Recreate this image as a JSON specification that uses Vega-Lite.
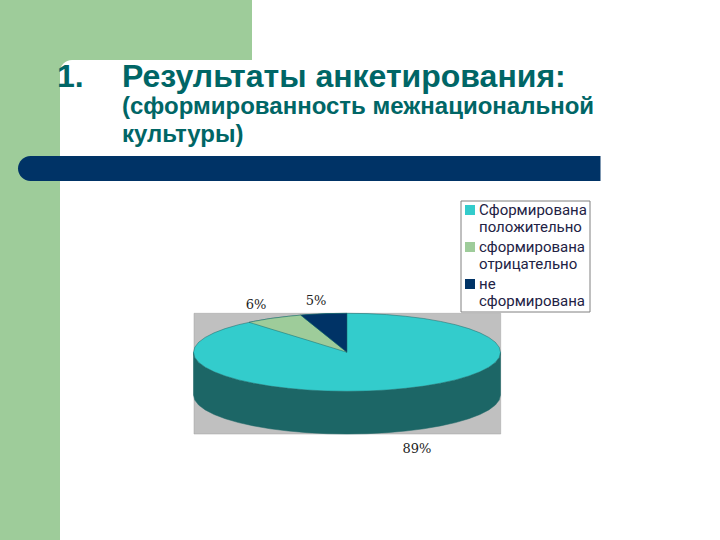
{
"$schema":"https://vega.github.io/schema/vega-lite/v6.json",
"width":720,"height":540,"padding":0,"autosize":{"type":"fit","contains":"padding"},
"background":"white",
"view":{"stroke":null},
"datasets":{
"panels":[
{"part":"green","x":0,"x2":252,"y":0,"y2":80},
{"part":"green","x":0,"x2":60,"y":60,"y2":540},
{"part":"white","x":60,"x2":300,"y":60,"y2":156},
{"part":"bar","x":18,"x2":600.5,"y":156,"y2":181},
{"part":"plot","x":194,"x2":500.7,"y":313.3,"y2":434}
],
"side":[
{"x":193.5,"y":352.3,"y2":395},{"x":194.8,"y":357.4,"y2":400.1},{"x":198.7,"y":362.4,"y2":405.1},{"x":205.2,"y":367.2,"y2":409.9},{"x":214.1,"y":371.8,"y2":414.5},{"x":225.2,"y":376,"y2":418.7},{"x":238.5,"y":379.9,"y2":422.6},{"x":253.6,"y":383.2,"y2":425.9},{"x":270.2,"y":386.1,"y2":428.8},{"x":288.3,"y":388.3,"y2":431},{"x":307.3,"y":390,"y2":432.7},{"x":327,"y":391,"y2":433.7},{"x":347,"y":391.3,"y2":434},{"x":367,"y":391,"y2":433.7},{"x":386.7,"y":390,"y2":432.7},{"x":405.7,"y":388.3,"y2":431},{"x":423.8,"y":386.1,"y2":428.8},{"x":440.4,"y":383.2,"y2":425.9},{"x":455.5,"y":379.9,"y2":422.6},{"x":468.8,"y":376,"y2":418.7},{"x":479.9,"y":371.8,"y2":414.5},{"x":488.8,"y":367.2,"y2":409.9},{"x":495.3,"y":362.4,"y2":405.1},{"x":499.2,"y":357.4,"y2":400.1},{"x":500.5,"y":352.3,"y2":395}
],
"slices":[
{"c":"Сформирована положительно","x":193.5,"y":352.3,"y2":352.3},{"c":"Сформирована положительно","x":194.8,"y":347.2,"y2":357.4},{"c":"Сформирована положительно","x":198.7,"y":342.2,"y2":362.4},{"c":"Сформирована положительно","x":205.2,"y":337.4,"y2":367.2},{"c":"Сформирована положительно","x":214.1,"y":332.8,"y2":371.8},{"c":"Сформирована положительно","x":225.2,"y":328.6,"y2":376},{"c":"Сформирована положительно","x":238.5,"y":324.7,"y2":379.9},{"c":"Сформирована положительно","x":253.6,"y":321.4,"y2":383.2},{"c":"Сформирована положительно","x":270.2,"y":318.5,"y2":386.1},{"c":"Сформирована положительно","x":288.3,"y":316.3,"y2":388.3},{"c":"Сформирована положительно","x":307.3,"y":314.6,"y2":390},{"c":"Сформирована положительно","x":327,"y":313.6,"y2":391},{"c":"Сформирована положительно","x":347,"y":313.3,"y2":391.3},{"c":"Сформирована положительно","x":367,"y":313.6,"y2":391},{"c":"Сформирована положительно","x":386.7,"y":314.6,"y2":390},{"c":"Сформирована положительно","x":405.7,"y":316.3,"y2":388.3},{"c":"Сформирована положительно","x":423.8,"y":318.5,"y2":386.1},{"c":"Сформирована положительно","x":440.4,"y":321.4,"y2":383.2},{"c":"Сформирована положительно","x":455.5,"y":324.7,"y2":379.9},{"c":"Сформирована положительно","x":468.8,"y":328.6,"y2":376},{"c":"Сформирована положительно","x":479.9,"y":332.8,"y2":371.8},{"c":"Сформирована положительно","x":488.8,"y":337.4,"y2":367.2},{"c":"Сформирована положительно","x":495.3,"y":342.2,"y2":362.4},{"c":"Сформирована положительно","x":499.2,"y":347.2,"y2":357.4},{"c":"Сформирована положительно","x":500.5,"y":352.3,"y2":352.3},
{"c":"сформирована отрицательно","x":249,"y":322.3,"y2":322.3},{"c":"сформирована отрицательно","x":253.6,"y":321.4,"y2":323.7},{"c":"сформирована отрицательно","x":270.2,"y":318.5,"y2":328.8},{"c":"сформирована отрицательно","x":288.3,"y":316.3,"y2":334.3},{"c":"сформирована отрицательно","x":300.7,"y":315.1,"y2":338.1},{"c":"сформирована отрицательно","x":307.3,"y":320.4,"y2":340.1},{"c":"сформирована отрицательно","x":327,"y":336.2,"y2":346.2},{"c":"сформирована отрицательно","x":347,"y":352.3,"y2":352.3},
{"c":"не сформирована","x":300.7,"y":315.1,"y2":315.1},{"c":"не сформирована","x":307.3,"y":314.6,"y2":320.4},{"c":"не сформирована","x":327,"y":313.6,"y2":336.2},{"c":"не сформирована","x":347,"y":313.3,"y2":352.3}
],
"labels":[
{"t":"6%","x":256,"y":305},{"t":"5%","x":316,"y":301},{"t":"89%","x":417,"y":449}
],
"titles":[
{"t":"1.","x":57,"y":87,"s":32},
{"t":"Результаты анкетирования:","x":122,"y":87,"s":32},
{"t":"(сформированность межнациональной","x":122,"y":114,"s":24},
{"t":"культуры)","x":122,"y":142,"s":24}
]
},
"encoding":{
"x":{"field":"x","type":"quantitative","scale":{"domain":[0,720],"nice":false},"axis":null},
"y":{"field":"y","type":"quantitative","scale":{"domain":[540,0],"nice":false},"axis":null,"stack":null}
},
"layer":[
{"data":{"name":"panels"},"transform":[{"filter":"datum.part==='green'"}],"mark":{"type":"rect","fill":"#9ECC9A"},"encoding":{"x2":{"field":"x2"},"y2":{"field":"y2"}}},
{"data":{"name":"panels"},"transform":[{"filter":"datum.part==='white'"}],"mark":{"type":"rect","fill":"white","cornerRadiusTopLeft":12},"encoding":{"x2":{"field":"x2"},"y2":{"field":"y2"}}},
{"data":{"name":"panels"},"transform":[{"filter":"datum.part==='bar'"}],"mark":{"type":"rect","fill":"#003366","cornerRadiusTopLeft":12.5,"cornerRadiusBottomLeft":12.5},"encoding":{"x2":{"field":"x2"},"y2":{"field":"y2"}}},
{"data":{"name":"panels"},"transform":[{"filter":"datum.part==='plot'"}],"mark":{"type":"rect","fill":"#C0C0C0","stroke":"#A0A0A0","strokeWidth":0.5},"encoding":{"x2":{"field":"x2"},"y2":{"field":"y2"}}},
{"data":{"name":"side"},"mark":{"type":"area","fill":"#1C6666","stroke":"#1C6666","strokeWidth":0.5},"encoding":{"y2":{"field":"y2"}}},
{"data":{"name":"slices"},"mark":{"type":"area","stroke":"#1C6666","strokeWidth":0.5},"encoding":{"y2":{"field":"y2"},
"color":{"field":"c","type":"nominal","scale":{"domain":["Сформирована положительно","сформирована отрицательно","не сформирована"],"range":["#33CCCC","#9ECC9A","#003366"]},
"legend":{"title":null,"orient":"none","legendX":460.5,"legendY":200.5,"padding":2,"fillColor":"white","strokeColor":"#808080","symbolType":"square","symbolSize":100,"symbolOpacity":1,"symbolStrokeWidth":0,"labelFont":"Roboto","labelFontSize":15,"labelColor":"#222244","labelLimit":0,"labelOffset":1.5,"rowPadding":4,"labelExpr":"datum.label==='Сформирована положительно'?['Сформирована','положительно']:datum.label==='сформирована отрицательно'?['сформирована','отрицательно']:['не','сформирована']"}}}},
{"data":{"name":"labels"},"mark":{"type":"text","font":"DejaVu Serif","fontSize":13,"color":"#222222","align":"center","baseline":"middle"},"encoding":{"text":{"field":"t"}}},
{"data":{"name":"titles"},"mark":{"type":"text","font":"Liberation Sans","fontWeight":"bold","color":"#006666","align":"left","baseline":"alphabetic"},"encoding":{"text":{"field":"t"},"size":{"field":"s","type":"quantitative","scale":null,"legend":null}}}
]
}
